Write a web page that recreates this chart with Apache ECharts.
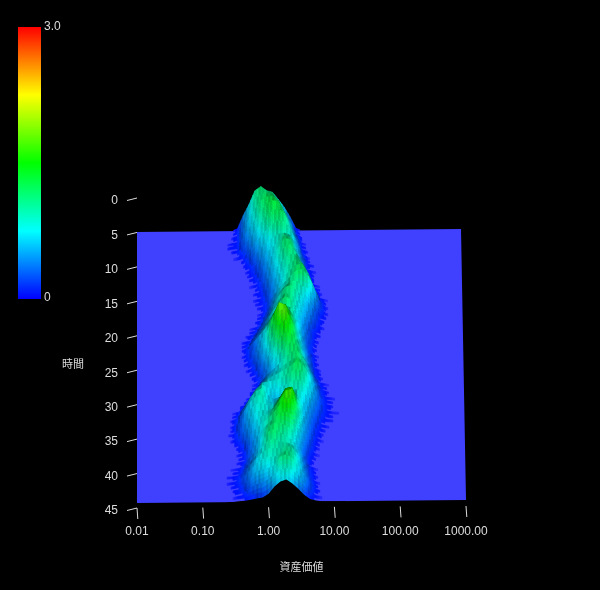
<!DOCTYPE html>
<html><head><meta charset="utf-8">
<style>html,body{margin:0;background:#000}#c{width:600px;height:590px}</style>
<script src="https://cdn.jsdelivr.net/npm/echarts@6/dist/echarts.min.js"></script>
</head><body><div id="c"></div>
<script>
const xTicks=[0.01,0.1,1,10,100,1000];
const timeTicks=[0,5,10,15,20,25,30,35,40,45];
const colorStops=['#0000ff','#00ffff','#00ff00','#ffff00','#ff0000'];
const valueMax=3;
// log10 of asset value for each surface column
const logX=[-0.63,-0.54,-0.45,-0.36,-0.27,-0.18,-0.09,0,0.09,0.18,0.27,0.36,0.45,0.54,0.63,0.72,0.81,0.90,0.99,1.08,1.17];
// surface height, one row per time step 0..45
const heights=[
[0,0,.06,.4,.69,1.04,1.15,1.04,1,.81,.61,.36,.06],
[0,.02,.08,.37,.66,.98,1.12,1.16,1.12,.88,.66,.43,.11,.02],
[0,.03,.07,.34,.63,.9,1.12,1.22,1.25,1.12,.8,.54,.21,.03],
[.02,.06,.07,.31,.55,.79,1.02,1.2,1.3,1.27,.99,.64,.31,.06,.02],
[0,.03,.06,.22,.42,.65,.86,1.07,1.22,1.25,1.14,.76,.42,.09,.03],
[0,0,.03,.07,.27,.5,.68,.87,1.01,1.12,1.08,.87,.54,.17,.03],
[0,0,0,.03,.12,.32,.54,.69,.82,.92,.95,.88,.6,.28,.06,.03],
[0,0,0,0,.06,.18,.4,.58,.73,.9,1.08,1.01,.68,.37,.07,.03],
[0,0,0,0,.04,.1,.28,.48,.69,.91,1.17,1.13,.77,.45,.12,.03],
[0,0,0,0,.03,.06,.18,.41,.63,.86,1.11,1.19,.92,.59,.23,.04],
[0,0,0,0,0,.04,.13,.34,.54,.76,.98,1.09,1.06,.76,.42,.07,.03],
[0,0,0,0,0,.04,.07,.24,.46,.68,.88,1.02,1.14,1,.65,.19,.04],
[0,0,0,0,0,.03,.07,.19,.39,.62,.82,1.01,1.16,1.19,.89,.43,.08,.03],
[0,0,0,0,0,.03,.05,.14,.37,.63,.83,1.02,1.19,1.23,1.02,.63,.2,.04],
[0,0,0,0,0,0,.04,.14,.42,.7,.9,1.07,1.07,.9,.83,.54,.2,.04],
[0,0,0,0,0,.03,.07,.2,.5,.8,1.07,1.15,.98,.77,.59,.32,.08,.03],
[0,0,0,0,0,.04,.11,.32,.59,.87,1.1,1.07,.87,.66,.46,.26,.07],
[0,0,0,0,.03,.07,.2,.46,.73,.98,1.19,1.1,.83,.59,.37,.14,.04],
[0,0,0,.03,.05,.14,.32,.54,.8,1.02,1.1,1.02,.77,.5,.26,.07,.03],
[0,0,0,.04,.08,.26,.46,.7,.95,1.23,1.27,1.07,.77,.5,.26,.07],
[0,0,0,.05,.17,.37,.59,.83,1.19,1.49,1.53,1.19,.8,.5,.2,.05],
[0,0,0,.04,.14,.32,.59,.87,1.36,1.78,1.7,1.27,.87,.54,.2,.05],
[0,0,0,.04,.11,.32,.54,.87,1.32,1.7,1.78,1.4,.9,.59,.26,.07],
[0,0,0,0,.07,.2,.46,.73,1.1,1.45,1.62,1.4,.98,.63,.32,.08],
[0,0,0,0,.04,.11,.32,.59,.87,1.19,1.4,1.36,1.07,.73,.37,.11,.03],
[0,0,0,0,0,.07,.2,.42,.7,.9,1.15,1.27,1.15,.8,.46,.14,.04],
[0,0,0,0,0,.04,.2,.42,.59,.77,.98,1.15,1.19,.95,.59,.26,.07,.03],
[0,0,0,0,.03,.08,.32,.54,.66,.8,.95,1.07,1.19,1.02,.7,.37,.11,.04],
[0,0,0,0,.05,.2,.5,.66,.77,.87,.98,1.1,1.27,1.1,.77,.46,.14,.05,.03],
[0,0,0,.04,.14,.46,.73,.77,.8,.87,.98,1.1,1.19,1.07,.77,.5,.2,.07,.03],
[0,0,.03,.11,.42,.73,.87,.77,.7,.77,.87,.98,1.02,.95,.73,.46,.2,.07,.03,.02],
[0,.03,.08,.32,.63,.87,.95,.73,.59,.66,.8,.9,.9,.8,.63,.37,.17,.07,.03,.02],
[0,.04,.14,.42,.7,.9,.95,.73,.66,.83,1.07,1.1,.9,.7,.5,.3,.11,.04,.03],
[0,.04,.17,.42,.66,.83,.87,.77,.77,1.02,1.32,1.36,.98,.66,.44,.2,.07,.03],
[.03,.04,.17,.37,.59,.77,.83,.8,.9,1.23,1.53,1.57,1.02,.63,.37,.14,.04],
[0,.04,.14,.32,.5,.7,.83,.87,1.07,1.36,1.66,1.7,1.07,.59,.32,.11,.03],
[0,0,.07,.2,.42,.63,.8,.95,1.15,1.4,1.62,1.57,.98,.54,.26,.07],
[0,0,.04,.11,.32,.54,.77,.98,1.15,1.32,1.36,1.27,.83,.46,.2,.05],
[0,0,.03,.08,.3,.5,.77,1.07,1.19,1.19,1.1,.98,.7,.37,.11,.03],
[0,0,.04,.08,.3,.5,.77,1.1,1.19,1.07,.95,.83,.63,.32,.08],
[0,.03,.05,.14,.32,.54,.8,1.02,1.07,.95,.95,.87,.66,.37,.11,.03],
[.03,.04,.08,.2,.42,.63,.83,.95,.95,.95,1.02,.98,.73,.42,.14,.04],
[.03,.05,.11,.26,.46,.66,.8,.87,.87,.98,1.07,1.02,.77,.46,.17,.05],
[0,.04,.08,.2,.4,.59,.66,.7,.8,1.07,1.15,1.02,.77,.5,.22,.07],
[0,.03,.07,.12,.26,.37,.42,.54,.7,.83,.9,.83,.66,.44,.2,.07,.03],
[0,0,.03,.04,.07,.11,.14,.26,.5,.66,.72,.59,.42,.22,.08,.03]
];
const planeRgb=[64,64,255], planeColor='#4040ff', axisColor='#dcdcdc';
const pxPerUnit=t=>30.6+8*Math.max(0,(16-t)/16);
const streak=[.96,.84,.93,.78,.9,.86,.96];
const fringeCut=[.02,.06,.035,.08,.03,.05,.09];
const rgbStops=colorStops.map(c=>[1,3,5].map(i=>parseInt(c.substr(i,2),16)));
function colorOf(h,light){
  const f=Math.min(Math.max(h/valueMax,0),1)*(rgbStops.length-1), i=Math.min(Math.floor(f),rgbStops.length-2), u=f-i;
  const mix=Math.min(h/0.05,1);
  const c=rgbStops[i].map((v,k)=>Math.round((v+(rgbStops[i+1][k]-v)*u)*light*mix+planeRgb[k]*(1-mix)));
  return 'rgb('+c.join(',')+')';
}
const hAt=(r,c)=>heights[r][c]||0;
function project(api,rect,x,t,h){
  const p=api.coord([x,t]), f=(p[0]-rect.x)/rect.width;
  return [p[0]-5*(1-t/45)*f, p[1]-3*f-h*pxPerUnit(t)];
}
const cells=[];
for(let r=0;r<heights.length-1;r++)for(let c=0;c<logX.length-1;c++){
  if(hAt(r,c)+hAt(r,c+1)+hAt(r+1,c)+hAt(r+1,c+1)>0)cells.push([Math.pow(10,logX[c]),r,c]);
}
const N=3;
function renderCell(params,api){
  const r=api.value(1),c=api.value(2),rect=params.coordSys,kids=[];
  const a=hAt(r,c),b=hAt(r,c+1),d=hAt(r+1,c),e=hAt(r+1,c+1);
  const dt=(d+e-a-b)/2, dx=(b+e-a-d)/2;
  let light=0.98-0.5*Math.min(Math.max(dt/0.22,0),1)-0.1*Math.min(Math.max(dx/0.35,-1),1);
  light=Math.min(light,1);
  const grid=[];
  for(let i=0;i<=N;i++){const row=[];for(let j=0;j<=N;j++){
    const u=i/N,v=j/N,h=(1-u)*(1-v)*a+u*(1-v)*b+(1-u)*v*d+u*v*e;
    const lx=logX[c]+(logX[c+1]-logX[c])*u, t=r+v;
    row.push({h,p:project(api,rect,Math.pow(10,lx),t,h)});
  }grid.push(row);}
  for(let j=0;j<N;j++)for(let i=0;i<N;i++){
    const q=[grid[i][j],grid[i+1][j],grid[i+1][j+1],grid[i][j+1]];
    const hm=(q[0].h+q[1].h+q[2].h+q[3].h)/4;
    if(hm<fringeCut[(r*N+j)%fringeCut.length])continue;
    const col=colorOf(hm,hm>0.14?light*streak[(c*N+i+r)%streak.length]:1);
    kids.push({type:'polygon',shape:{points:q.map(o=>o.p)},style:{fill:col,stroke:col,lineWidth:0.6},silent:true});
  }
  return {type:'group',children:kids};
}
const chart=echarts.init(document.getElementById('c'),null,{renderer:'canvas'});
const font='"Liberation Sans","Noto Sans CJK JP",sans-serif';
const labelShift=3;
chart.setOption({
  backgroundColor:'#000',animation:false,
  grid:[{left:137,right:134,top:201,bottom:79},{left:137,right:134,top:232,bottom:87}],
  xAxis:[
    {type:'log',logBase:10,min:0.01,max:1000,gridIndex:0,name:'資産価値',nameLocation:'middle',nameGap:51,
     nameTextStyle:{color:axisColor,fontSize:11,fontFamily:font},
     axisLine:{show:false},axisTick:{show:false},splitLine:{show:false},minorTick:{show:false},
     axisLabel:{color:axisColor,fontSize:12,fontFamily:font,margin:15,showMinLabel:true,showMaxLabel:true,formatter:v=>Number(v).toFixed(2)}},
    {type:'log',logBase:10,min:0.01,max:1000,gridIndex:1,show:false}
  ],
  yAxis:[
    {type:'value',inverse:true,min:0,max:45,interval:5,gridIndex:0,name:'時間',nameLocation:'middle',nameGap:53,nameRotate:0,
     nameTextStyle:{color:axisColor,fontSize:11,fontFamily:font,verticalAlign:'top',lineHeight:17},
     axisLine:{show:false},axisTick:{show:false},splitLine:{show:false},
     axisLabel:{color:axisColor,fontSize:12,fontFamily:font,margin:19}},
    {type:'value',inverse:true,min:0,max:45,gridIndex:1,show:false}
  ],
  visualMap:{type:'continuous',min:0,max:valueMax,seriesIndex:[],left:18,top:27,padding:0,itemWidth:23,itemHeight:272,
    calculable:false,realtime:false,text:null,showLabel:false,inRange:{color:colorStops},textStyle:{color:'transparent'}},
  graphic:[
    {type:'rect',left:18,top:27,z:10,silent:true,shape:{width:23,height:272},
     style:{fill:new echarts.graphic.LinearGradient(0,1,0,0,colorStops.map((c,i)=>({offset:i/(colorStops.length-1),color:c})))}},
    {type:'text',left:44,top:21,silent:true,style:{text:'3.0',fill:axisColor,font:'12px '+font}},
    {type:'text',left:44,top:292,silent:true,style:{text:'0',fill:axisColor,font:'12px '+font}}
  ],
  series:[
    {type:'custom',name:'plane',coordinateSystem:'cartesian2d',xAxisIndex:1,yAxisIndex:1,clip:false,silent:true,z:1,
     data:[[xTicks[0],0]],
     renderItem(params,api){
       const rect=params.coordSys,x0=xTicks[0],x1=xTicks[xTicks.length-1];
       return {type:'polygon',shape:{points:[project(api,rect,x0,0,0),project(api,rect,x1,0,0),project(api,rect,x1,45,0),project(api,rect,x0,45,0)]},style:{fill:planeColor},silent:true};
     }},
    {type:'custom',name:'surface',coordinateSystem:'cartesian2d',xAxisIndex:1,yAxisIndex:1,clip:false,silent:true,z:2,progressive:0,
     encode:{x:0,y:1},data:cells,renderItem:renderCell},
    {type:'custom',name:'front',coordinateSystem:'cartesian2d',xAxisIndex:1,yAxisIndex:1,clip:false,silent:true,z:3,
     data:[[xTicks[0],45]],
     renderItem(params,api){
       const rect=params.coordSys,last=heights.length-1,pts=[];
       logX.forEach((l,c)=>pts.push(project(api,rect,Math.pow(10,l),last,hAt(last,c))));
       for(let c=logX.length-1;c>=0;c--)pts.push(project(api,rect,Math.pow(10,logX[c]),last,-0.2));
       return {type:'polygon',shape:{points:pts},style:{fill:'#000'},silent:true};
     }},
    {type:'custom',name:'xTicks',coordinateSystem:'cartesian2d',xAxisIndex:0,yAxisIndex:0,clip:false,silent:true,z:4,
     data:xTicks.map(v=>[v,45]),
     renderItem(params,api){
       const p=api.coord([api.value(0),api.value(1)]),f=(p[0]-params.coordSys.x)/params.coordSys.width,y=p[1]-labelShift;
       return {type:'line',shape:{x1:p[0],y1:y-2*f,x2:p[0]+0.8,y2:y+11-2*f},style:{stroke:axisColor,lineWidth:1},silent:true};
     }},
    {type:'custom',name:'tTicks',coordinateSystem:'cartesian2d',xAxisIndex:0,yAxisIndex:0,clip:false,silent:true,z:4,
     data:timeTicks.map(v=>[xTicks[0],v]),
     renderItem(params,api){
       const p=api.coord([api.value(0),api.value(1)]),y=p[1]-labelShift;
       return {type:'line',shape:{x1:p[0]-10,y1:y+2.5,x2:p[0],y2:y},style:{stroke:axisColor,lineWidth:1},silent:true};
     }}
  ]
});
</script></body></html>
